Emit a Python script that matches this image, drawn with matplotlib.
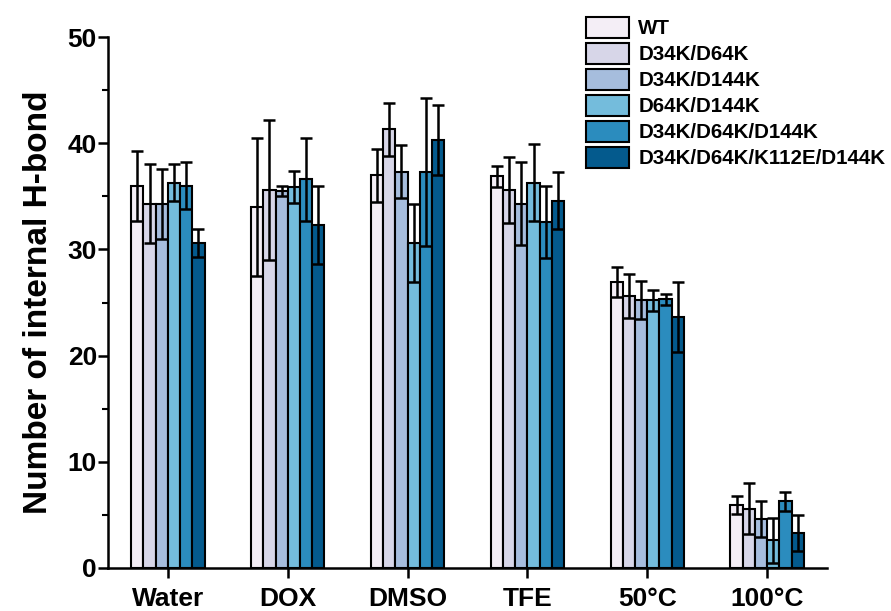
import matplotlib
matplotlib.use("Agg")
import matplotlib.pyplot as plt
from matplotlib.ticker import MultipleLocator
import numpy as np

plt.rcParams['font.family'] = ['Liberation Sans', 'DejaVu Sans']
plt.rcParams['font.weight'] = 'bold'

conditions = ["Water", "DOX", "DMSO", "TFE", "50°C", "100°C"]
mutants = ["WT", "D34K/D64K", "D34K/D144K", "D64K/D144K",
           "D34K/D64K/D144K", "D34K/D64K/K112E/D144K"]
colors = ['#f4eef6', '#d7d6e8', '#a6bddd', '#74bcdc', '#2b8cbe', '#045a8d']

# mean number of internal H-bonds, one list per mutant (order of conditions)
wt_mean = [36.0, 34.0, 37.0, 36.9, 26.9, 5.9]
d34_d64_mean = [34.3, 35.6, 41.3, 35.6, 25.6, 5.6]
d34_d144_mean = [34.3, 35.5, 37.3, 34.3, 25.2, 4.6]
d64_d144_mean = [36.3, 35.9, 30.6, 36.3, 25.2, 2.6]
triple_mean = [36.0, 36.6, 37.3, 32.6, 25.3, 6.3]
quad_mean = [30.6, 32.3, 40.3, 34.6, 23.6, 3.3]

# standard deviations
wt_err = [3.3, 6.5, 2.5, 1.0, 1.4, 0.85]
d34_d64_err = [3.7, 6.6, 2.5, 3.1, 2.1, 2.4]
d34_d144_err = [3.3, 0.5, 2.5, 3.9, 1.8, 1.7]
d64_d144_err = [1.7, 1.5, 3.7, 3.6, 1.0, 2.1]
triple_err = [2.2, 3.9, 7.0, 3.4, 0.5, 0.9]
quad_err = [1.3, 3.7, 3.3, 2.7, 3.3, 1.7]

means = [wt_mean, d34_d64_mean, d34_d144_mean, d64_d144_mean, triple_mean, quad_mean]
errs = [wt_err, d34_d64_err, d34_d144_err, d64_d144_err, triple_err, quad_err]

fig = plt.figure(figsize=(8.91, 6.11), dpi=100)
ax = fig.add_axes([0.1212, 0.0704, 0.807, 0.869])

x = np.arange(len(conditions))
w = 0.102
for j, (m, e) in enumerate(zip(means, errs)):
    pos = x + (j - 2.5) * w
    ax.bar(pos, m, width=w, color=colors[j], edgecolor='black',
           linewidth=1.5, label=mutants[j], zorder=2)
    ax.errorbar(pos, m, yerr=e, fmt='none', ecolor='black', elinewidth=1.8,
                capsize=4.4, capthick=1.8, zorder=3)

ax.set_xlim(-0.5, 5.5)
ax.set_ylim(0, 50)
ax.set_xticks(x)
ax.set_xticklabels(conditions, fontsize=19, fontweight='bold')
ax.yaxis.set_major_locator(MultipleLocator(10))
ax.yaxis.set_minor_locator(MultipleLocator(5))
for lab in ax.get_yticklabels():
    lab.set_fontsize(19)
    lab.set_fontweight('bold')
ax.set_ylabel("Number of internal H-bond", fontsize=24, fontweight='bold', labelpad=10)

for side in ['top', 'right']:
    ax.spines[side].set_visible(False)
for side in ['left', 'bottom']:
    ax.spines[side].set_linewidth(1.8)
ax.tick_params(axis='both', which='major', direction='out', length=7, width=1.8)
ax.tick_params(axis='y', which='major', pad=1)
ax.tick_params(axis='x', which='major', pad=7)
ax.tick_params(axis='y', which='minor', direction='out', length=4.5, width=1.5)

ax.legend(loc='upper left', bbox_to_anchor=(0.653, 1.054), frameon=False,
          prop={'size': 14.8, 'weight': 'bold'}, handlelength=2.1,
          handleheight=1.2, labelspacing=0.22, handletextpad=0.45,
          borderaxespad=0)

fig.savefig("out.png", dpi=100)
